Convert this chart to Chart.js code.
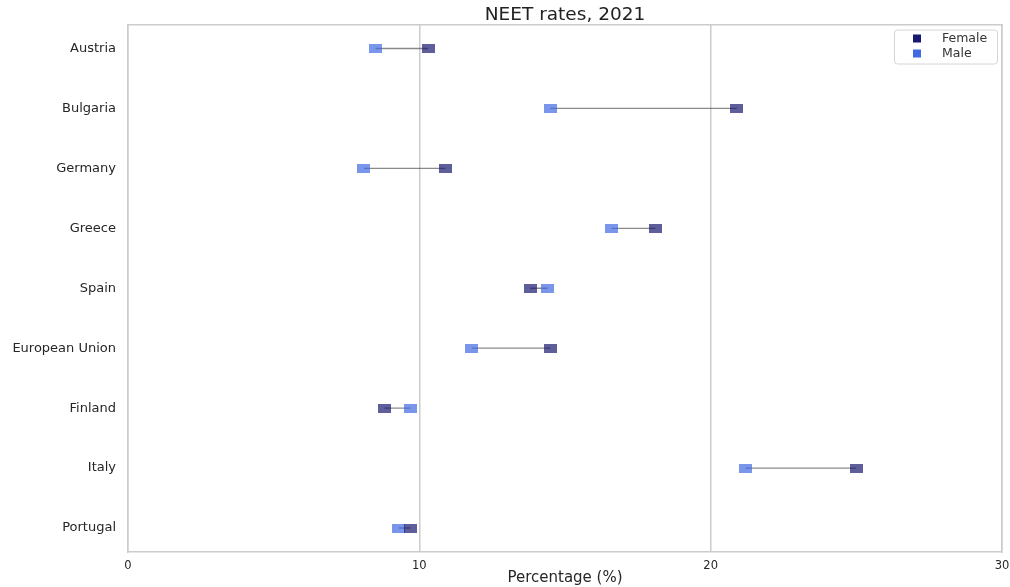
<!DOCTYPE html>
<html>
<head>
<meta charset="utf-8">
<script src="https://cdn.jsdelivr.net/npm/chart.js@4/dist/chart.umd.min.js"></script>
<style>
  html, body { margin: 0; padding: 0; background: #fff; }
  #wrap { width: 1010px; height: 587px; }
</style>
</head>
<body>
<div id="wrap"><canvas id="neetChart" width="1010" height="587"></canvas></div>
<script>
// Data
const countries = ['Austria', 'Bulgaria', 'Germany', 'Greece', 'Spain', 'European Union', 'Finland', 'Italy', 'Portugal'];
const female = [10.3, 20.9, 10.9, 18.1, 13.8, 14.5, 8.8, 25.0, 9.7];
const male = [8.5, 14.5, 8.1, 16.6, 14.4, 11.8, 9.7, 21.2, 9.3];
const seriesNames = ['Female', 'Male'];
const xTicks = [0, 10, 20, 30];

const femaleFill = 'rgba(25, 25, 112, 0.7)';
const maleFill = 'rgba(65, 105, 225, 0.7)';
const legendColors = ['#191970', '#4169e1'];
const fontFamily = '"DejaVu Sans", "Liberation Sans", Arial, sans-serif';

// rectangular marker, a bit wider than tall
function marker(color) {
    const c = document.createElement('canvas');
    c.width = 13;
    c.height = 9;
    const ctx = c.getContext('2d');
    ctx.fillStyle = color;
    ctx.fillRect(0, 0, 13, 9);
    return c;
}

// one thin grey segment per country, from male to female
const lineSets = countries.map((c, i) => ({
    label: c,
    data: [{ x: male[i], y: i }, { x: female[i], y: i }],
    showLine: true,
    borderColor: 'rgba(60, 60, 60, 0.6)',
    borderWidth: 1.3,
    pointRadius: 0,
    order: 3
}));

const legendInside = {
    id: 'legendInside',
    afterDraw(chart) {
        const ctx = chart.ctx;
        const area = chart.chartArea;
        const x = area.right - 108, y = area.top + 5, w = 103, h = 34;
        ctx.save();
        ctx.fillStyle = '#fff';
        ctx.strokeStyle = '#d6d6d6';
        ctx.lineWidth = 1;
        ctx.beginPath();
        ctx.roundRect(x + 0.5, y + 0.5, w, h, 3);
        ctx.fill();
        ctx.stroke();
        ctx.font = '12.5px ' + fontFamily;
        ctx.textBaseline = 'middle';
        seriesNames.forEach((name, i) => {
            const cy = y + 9 + i * 15;
            ctx.fillStyle = legendColors[i];
            ctx.fillRect(x + 19, cy - 4, 8, 8);
            ctx.fillStyle = '#333';
            ctx.fillText(name, x + 48, cy);
        });
        ctx.restore();
    }
};

new Chart(document.getElementById('neetChart'), {
    type: 'scatter',
    data: {
        datasets: [
            {
                label: seriesNames[0],
                data: countries.map((c, i) => ({ x: female[i], y: i })),
                pointStyle: marker(femaleFill),
                order: 1
            },
            {
                label: seriesNames[1],
                data: countries.map((c, i) => ({ x: male[i], y: i })),
                pointStyle: marker(maleFill),
                order: 2
            }
        ].concat(lineSets)
    },
    options: {
        responsive: false,
        animation: false,
        layout: { padding: { left: 0, right: 8, top: 0, bottom: 0 } },
        plugins: {
            legend: { display: false },
            tooltip: { enabled: false },
            title: {
                display: true,
                text: 'NEET rates, 2021',
                fullSize: false,
                color: '#222',
                font: { family: fontFamily, size: 18.5, weight: 'normal', lineHeight: 1 },
                padding: { top: 6, bottom: 0 }
            }
        },
        scales: {
            x: {
                type: 'linear',
                min: xTicks[0],
                max: xTicks[xTicks.length - 1],
                afterBuildTicks: s => { s.ticks = xTicks.map(v => ({ value: v })); },
                afterFit: s => { s.height = 35; s.paddingRight = 0; s.paddingLeft = 0; },
                grid: { color: '#cccccc', lineWidth: 1.5, drawTicks: false },
                border: { color: '#cccccc', width: 1.5 },
                ticks: { color: '#262626', padding: 7, font: { family: fontFamily, size: 11.5 } },
                title: {
                    display: true,
                    text: 'Percentage (%)',
                    color: '#262626',
                    font: { family: fontFamily, size: 15 },
                    padding: { top: 0, bottom: 0 }
                }
            },
            y: {
                type: 'linear',
                reverse: true,
                min: -0.4,
                max: countries.length - 0.6,
                afterBuildTicks: s => { s.ticks = countries.map((c, i) => ({ value: i })); },
                afterFit: s => { s.width = 128; },
                grid: { display: false, drawTicks: false },
                border: { color: '#cccccc', width: 1.5 },
                ticks: {
                    color: '#262626',
                    padding: 12,
                    font: { family: fontFamily, size: 13 },
                    callback: v => countries[v]
                }
            },
            x2: {
                type: 'linear',
                position: 'top',
                display: true,
                grid: { display: false, drawTicks: false },
                border: { color: '#cccccc', width: 1.5 },
                ticks: { display: false },
                afterFit: s => { s.height = 0; }
            },
            y2: {
                type: 'linear',
                position: 'right',
                display: true,
                grid: { display: false, drawTicks: false },
                border: { color: '#cccccc', width: 1.5 },
                ticks: { display: false },
                afterFit: s => { s.width = 0; }
            }
        }
    },
    plugins: [legendInside]
});
</script>
</body>
</html>
